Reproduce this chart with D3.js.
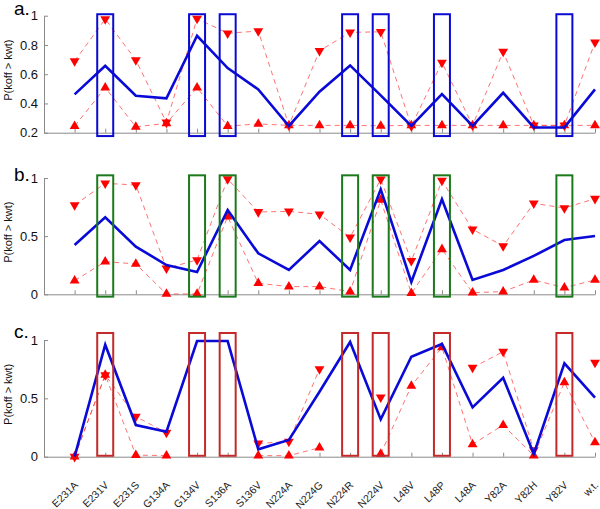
<!DOCTYPE html>
<html>
<head>
<meta charset="utf-8">
<script src="https://cdn.jsdelivr.net/npm/d3@7"></script>
<style>
  body { margin: 0; background: #fff; }
  svg { display: block; font-family: "Liberation Sans", Arial, sans-serif; }
</style>
</head>
<body>
<svg id="chart" width="600" height="509"></svg>
<script>
const categories = ["E231A","E231V","E231S","G134A","G134V","S136A","S136V","N224A","N224G","N224R","N224V","L48V","L48P","L48A","Y82A","Y82H","Y82V","w.t."];

// panel a
const aMean  = [0.462,0.658,0.453,0.435,0.863,0.642,0.496,0.246,0.48,0.66,0.455,0.246,0.464,0.246,0.473,0.236,0.236,0.496];
const aUpper = [0.69,0.977,0.697,0.27,0.98,0.88,0.895,0.25,0.76,0.886,0.89,0.245,0.68,0.25,0.754,0.25,0.25,0.818];
const aLower = [0.245,0.508,0.24,0.264,0.508,0.245,0.26,0.25,0.25,0.25,0.247,0.25,0.25,0.25,0.25,0.25,0.25,0.25];
// panel b
const bMean  = [0.424,0.662,0.41,0.252,0.192,0.725,0.352,0.209,0.458,0.209,0.903,0.106,0.817,0.123,0.209,0.33,0.467,0.501];
const bUpper = [0.768,0.954,0.94,0.224,0.295,0.991,0.708,0.713,0.688,0.49,0.989,0.287,0.977,0.559,0.415,0.782,0.742,0.822];
const bLower = [0.117,0.281,0.261,0.003,0.003,0.668,0.095,0.066,0.066,0.023,0.811,0.009,0.387,0.014,0.023,0.123,0.057,0.123];
// panel c (null = no value)
const cMean  = [0,0.96,0.271,0.214,0.991,0.991,0.063,0.143,0.556,0.983,0.32,0.857,0.966,0.423,0.677,0.023,0.8,0.506];
const cUpper = [0,0.7,0.343,0.206,null,null,0.114,0.129,0.751,null,0.509,null,null,0.763,0.9,0.057,null,0.806];
const cLower = [0,0.7,0.014,0.009,null,null,0.009,0.009,0.077,null,0.023,0.606,0.937,0.106,0.271,0.009,0.637,0.123];

const highlighted = ["E231V","G134V","S136A","N224R","N224V","L48P","Y82V"];

const aTicks = [0.2,0.4,0.6,0.8,1];
const bTicks = [0,0.5,1];
const cTicks = [0,0.5,1];
const panelLabels = ["a.","b.","c."];
const yLabel = "P(koff > kwt)";

const panels = [
  {label: panelLabels[0], mean: aMean, upper: aUpper, lower: aLower, ticks: aTicks, domain: [0.2,1], range: [132.7,15.7], box: [0.177,1.01], boxColor: "#0a0ad2", labelPos: [14,15]},
  {label: panelLabels[1], mean: bMean, upper: bUpper, lower: bLower, ticks: bTicks, domain: [0,1], range: [294.3,178], box: [-0.02,1.023], boxColor: "#1b7a1b", labelPos: [14,181]},
  {label: panelLabels[2], mean: cMean, upper: cUpper, lower: cLower, ticks: cTicks, domain: [0,1], range: [456.7,340], box: [0.008,1.06], boxColor: "#c42a2a", labelPos: [14,338]}
];

const svg = d3.select("#chart");
const x = d3.scaleLinear().domain([-1, categories.length - 1]).range([44, 595]);
const idx = categories.map((c, i) => i);

panels.forEach((p, pi) => {
  const y = d3.scaleLinear().domain(p.domain).range(p.range);
  const g = svg.append("g");

  // axes
  const yAxis = d3.axisLeft(y).tickValues(p.ticks).tickFormat(d3.format("~g")).tickSizeInner(-4).tickSizeOuter(0).tickPadding(6);
  const ya = g.append("g").attr("transform", `translate(${x(-1)},0)`).call(yAxis);
  ya.selectAll("text").attr("font-size", 13).attr("fill", "#111");
  ya.selectAll("line, path").attr("stroke", "#8a8a8a");

  const xAxis = d3.axisBottom(x).tickValues(idx).tickFormat("").tickSizeInner(-4).tickSizeOuter(0);
  const xa = g.append("g").attr("transform", `translate(0,${p.range[0]})`).call(xAxis);
  xa.selectAll("line, path").attr("stroke", "#8a8a8a");

  // y label
  g.append("text")
    .attr("transform", `translate(12,${(p.range[0] + p.range[1]) / 2 - 4}) rotate(-90)`)
    .attr("text-anchor", "middle")
    .attr("font-size", 11)
    .attr("fill", "#111")
    .text(yLabel);

  // panel label
  g.append("text")
    .attr("x", p.labelPos[0]).attr("y", p.labelPos[1])
    .attr("font-size", 19)
    .attr("fill", "#000")
    .text(p.label);

  const line = d3.line().defined(d => d.v != null).x(d => x(d.i)).y(d => y(d.v));
  const toPts = arr => arr.map((v, i) => ({i, v}));

  // dashed bound lines
  [p.upper, p.lower].forEach(arr => {
    g.append("path")
      .attr("d", line(toPts(arr)))
      .attr("fill", "none")
      .attr("stroke", "#ff3b3b")
      .attr("stroke-width", 0.9)
      .attr("stroke-opacity", 0.8)
      .attr("stroke-dasharray", "5,4");
  });

  // triangles
  const tri = d3.symbol().type(d3.symbolTriangle).size(42);
  g.append("g").selectAll("path")
    .data(toPts(p.upper).filter(d => d.v != null))
    .join("path")
    .attr("d", tri)
    .attr("transform", d => `translate(${x(d.i)},${y(d.v)}) rotate(180)`)
    .attr("fill", "#ff0000");
  g.append("g").selectAll("path")
    .data(toPts(p.lower).filter(d => d.v != null))
    .join("path")
    .attr("d", tri)
    .attr("transform", d => `translate(${x(d.i)},${y(d.v)})`)
    .attr("fill", "#ff0000");

  // mean line
  g.append("path")
    .attr("d", line(toPts(p.mean)))
    .attr("fill", "none")
    .attr("stroke", "#0a0ad8")
    .attr("stroke-width", 2.6)
    .attr("stroke-linejoin", "miter");

  // highlight boxes
  g.append("g").selectAll("rect")
    .data(highlighted)
    .join("rect")
    .attr("x", d => x(categories.indexOf(d)) - 8)
    .attr("width", 16)
    .attr("y", y(p.box[1]))
    .attr("height", y(p.box[0]) - y(p.box[1]))
    .attr("fill", "none")
    .attr("stroke", p.boxColor)
    .attr("stroke-width", 2);

  // category labels in the bottom panel
  if (pi === panels.length - 1) {
    g.append("g").selectAll("text")
      .data(categories)
      .join("text")
      .attr("transform", (d, i) => `translate(${x(i) + 4},${p.range[0] + 29}) rotate(-45)`)
      .attr("text-anchor", "end")
      .attr("font-size", 10.5)
      .attr("fill", "#222")
      .text(d => d);
  }
});
</script>
</body>
</html>
